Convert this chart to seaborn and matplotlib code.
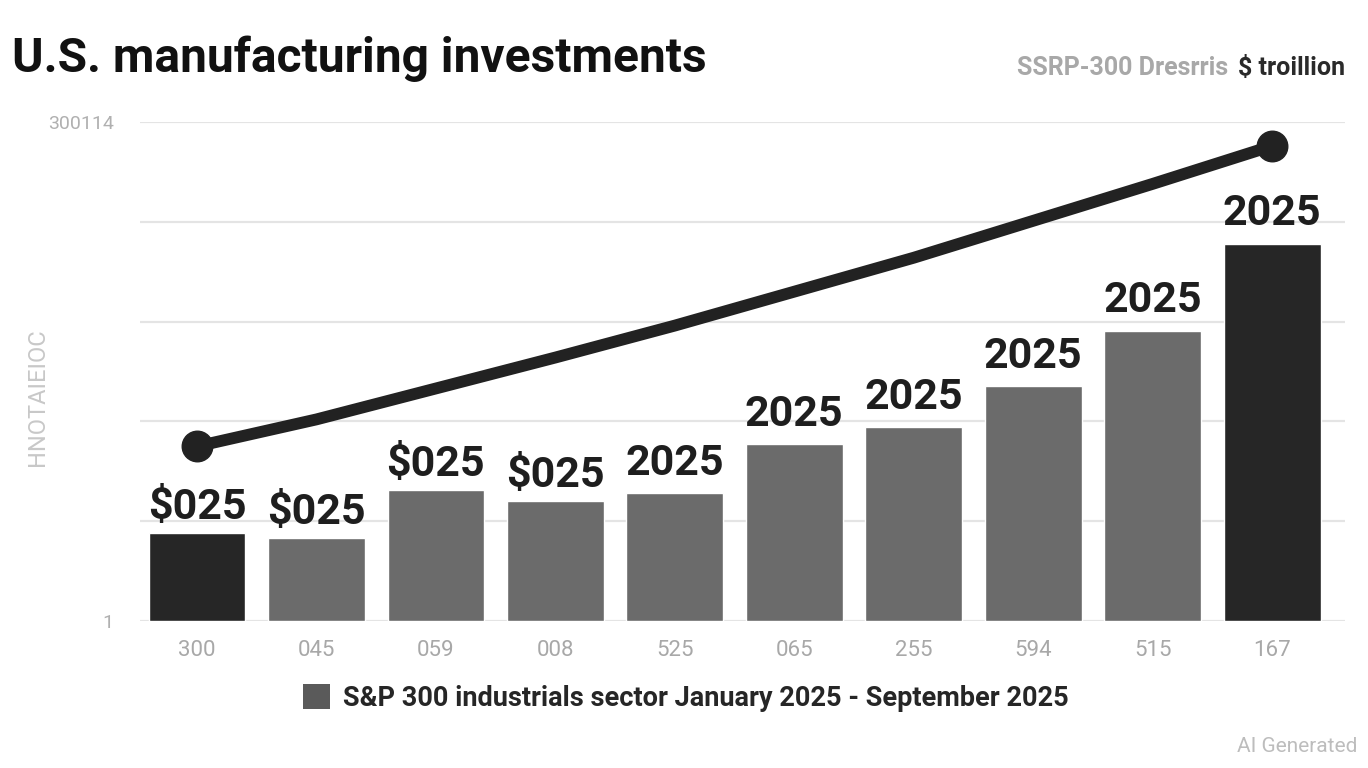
import matplotlib
matplotlib.use("Agg")
import matplotlib.pyplot as plt
import seaborn as sns
import numpy as np
import pandas as pd
from matplotlib.patches import Patch

# ---- data ----
categories = ["300", "045", "059", "008", "525", "065", "255", "594", "515", "167"]
bar_values = [0.88, 0.83, 1.31, 1.20, 1.28, 1.77, 1.94, 2.35, 2.91, 3.78]
line_values = [1.75, 2.02, 2.33, 2.64, 2.96, 3.30, 3.64, 4.01, 4.38, 4.76]
bar_labels = ["$025", "$025", "$025", "$025", "2025", "2025", "2025", "2025", "2025", "2025"]
bar_groups = ["dark", "mid", "mid", "mid", "mid", "mid", "mid", "mid", "mid", "dark"]
y_ticks = [0, 1, 2, 3, 4, 5]
y_tick_labels = ["1", "", "", "", "", "300114"]

title = "U.S. manufacturing investments"
subtitle_grey = "SSRP-300 Dresrris"
subtitle_dark = "$ troillion"
legend_label = "S&P 300 industrials sector January 2025 - September 2025"
y_label = "HNOTAIEIOC"

sns.set_theme(style="white")
plt.rcParams["font.family"] = ["Roboto", "DejaVu Sans"]

df = pd.DataFrame({"cat": categories, "val": bar_values, "grp": bar_groups})

fig = plt.figure(figsize=(13.68, 7.68), dpi=100)
fig.patch.set_facecolor("white")
ax = fig.add_axes([140 / 1368, 1 - 621 / 768, (1345 - 140) / 1368, (621 - 122) / 768])

sns.barplot(data=df, x="cat", y="val", hue="grp",
            palette={"dark": "#262626", "mid": "#6b6b6b"},
            width=0.81, dodge=False, legend=False, ax=ax, saturation=1)

positions = np.arange(len(categories))
ax.plot(positions, line_values, color="#222222", lw=8.5, solid_capstyle="round",
        marker="o", markersize=22, markevery=[0, len(categories) - 1], zorder=5)

for p, v, lab in zip(positions, bar_values, bar_labels):
    off = 4 if lab.startswith("$") else 7
    ax.annotate(lab, xy=(p, v), xytext=(0, off), textcoords="offset points",
                ha="center", va="bottom", fontsize=31, fontweight="bold",
                color="#1e1e1e", zorder=6)

ax.set_xlim(-0.477, 9.61)
ax.set_ylim(0, 5)
ax.set_yticks(y_ticks)
ax.set_yticklabels(y_tick_labels, fontsize=14, color="#b0b0b0")
ax.set_xticks(positions)
ax.set_xticklabels(categories, fontsize=16, color="#a8a8a8")
ax.tick_params(axis="x", pad=14, length=0)
ax.tick_params(axis="y", pad=19, length=0)
ax.yaxis.grid(True, color="#e4e4e4", lw=1.6)
ax.set_axisbelow(True)
for s in ax.spines.values():
    s.set_visible(False)
ax.set_xlabel("")
ax.set_ylabel("")

fig.text(12 / 1368, 1 - 59 / 768, title, fontsize=34.5, fontweight="bold",
         color="#111111", ha="left", va="center")
fig.text(1345 / 1368, 1 - 68 / 768, subtitle_dark, fontsize=18, fontweight="bold",
         color="#2a2a2a", ha="right", va="center")
fig.text(1228 / 1368, 1 - 68 / 768, subtitle_grey, fontsize=18, fontweight="bold",
         color="#a8a8a8", ha="right", va="center")
fig.text(38 / 1368, 1 - 397 / 768, y_label, fontsize=17, color="#c8c8c8",
         rotation=90, ha="center", va="center")

handle = Patch(facecolor="#5a5a5a", edgecolor="none", label=legend_label)
fig.legend(handles=[handle], loc="center", bbox_to_anchor=(686 / 1368, 1 - 698 / 768),
           frameon=False, prop={"size": 19.5, "weight": "bold"},
           handlelength=1.0, handleheight=1.0, handletextpad=0.5)

fig.text(1357 / 1368, 1 - 747 / 768, "AI Generated", fontsize=15, color="#bdbdbd",
         ha="right", va="center")

fig.savefig("out.png", dpi=100)
